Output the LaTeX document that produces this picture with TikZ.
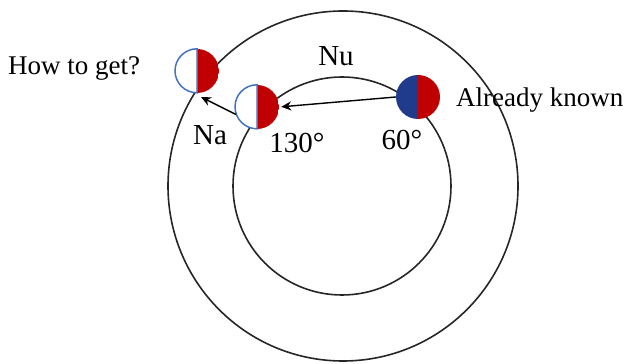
\documentclass[tikz,border=0pt]{standalone}
\usepackage{fontspec}
\setmainfont{Liberation Serif}
\usetikzlibrary{arrows.meta}
\definecolor{myred}{RGB}{192,0,0}
\definecolor{mynavy}{RGB}{32,58,140}
\definecolor{myblue}{RGB}{68,114,196}
\tikzset{
  orbit/.style={draw=black!85, line width=1.6pt},
  halfbase/.style={circle, minimum size=44pt, inner sep=0pt,
    path picture={\fill[myred] (path picture bounding box.south) rectangle (path picture bounding box.north east);}},
  knownball/.style={halfbase,
    path picture={\fill[mynavy] (path picture bounding box.south west) rectangle (path picture bounding box.north);
                  \fill[myred] (path picture bounding box.south) rectangle (path picture bounding box.north east);}},
  unknownball/.style={halfbase, fill=white},
  halfline/.style={draw=myblue, line width=1.5pt},
  conn/.style={draw=black, line width=1.4pt, -{Stealth[length=10pt,width=9pt]}},
  lbl/.style={inner sep=0pt, anchor=base, font=\fontsize{29}{34}\selectfont},
  txt/.style={inner sep=0pt, anchor=base west, font=\fontsize{27}{32}\selectfont}
}
\begin{document}
\begin{tikzpicture}[x=1pt,y=1pt]
\useasboundingbox (0,0) rectangle (629,364);
\node[circle, orbit, minimum size=350pt, inner sep=0pt] (outer) at (343,178) {};
\node[circle, orbit, minimum size=218pt, inner sep=0pt] (inner) at (342,178) {};
\node[knownball] (k) at (418,267) {};
\node[unknownball] (m) at (257,257) {};
\draw[halfline] (m.north) arc[start angle=90, end angle=270, radius=22] -- cycle;
\node[unknownball] (h) at (197,293) {};
\draw[halfline] (h.north) arc[start angle=90, end angle=270, radius=22] -- cycle;
\coordinate (t) at (201,267);
\draw[conn, shorten >=2pt] (k.west) -- (m.east);
\draw[conn] (m.200) -- (t);
\node[txt] (q) at (8,289) {How to get?};
\node[txt] (a) at (456,257) {Already known};
\node[lbl] (nu) at (336,298) {Nu};
\node[lbl] (na) at (210,219) {Na};
\node[lbl] (d1) at (297,211) {130°};
\node[lbl] (d2) at (402,214) {60°};
\end{tikzpicture}
\end{document}
